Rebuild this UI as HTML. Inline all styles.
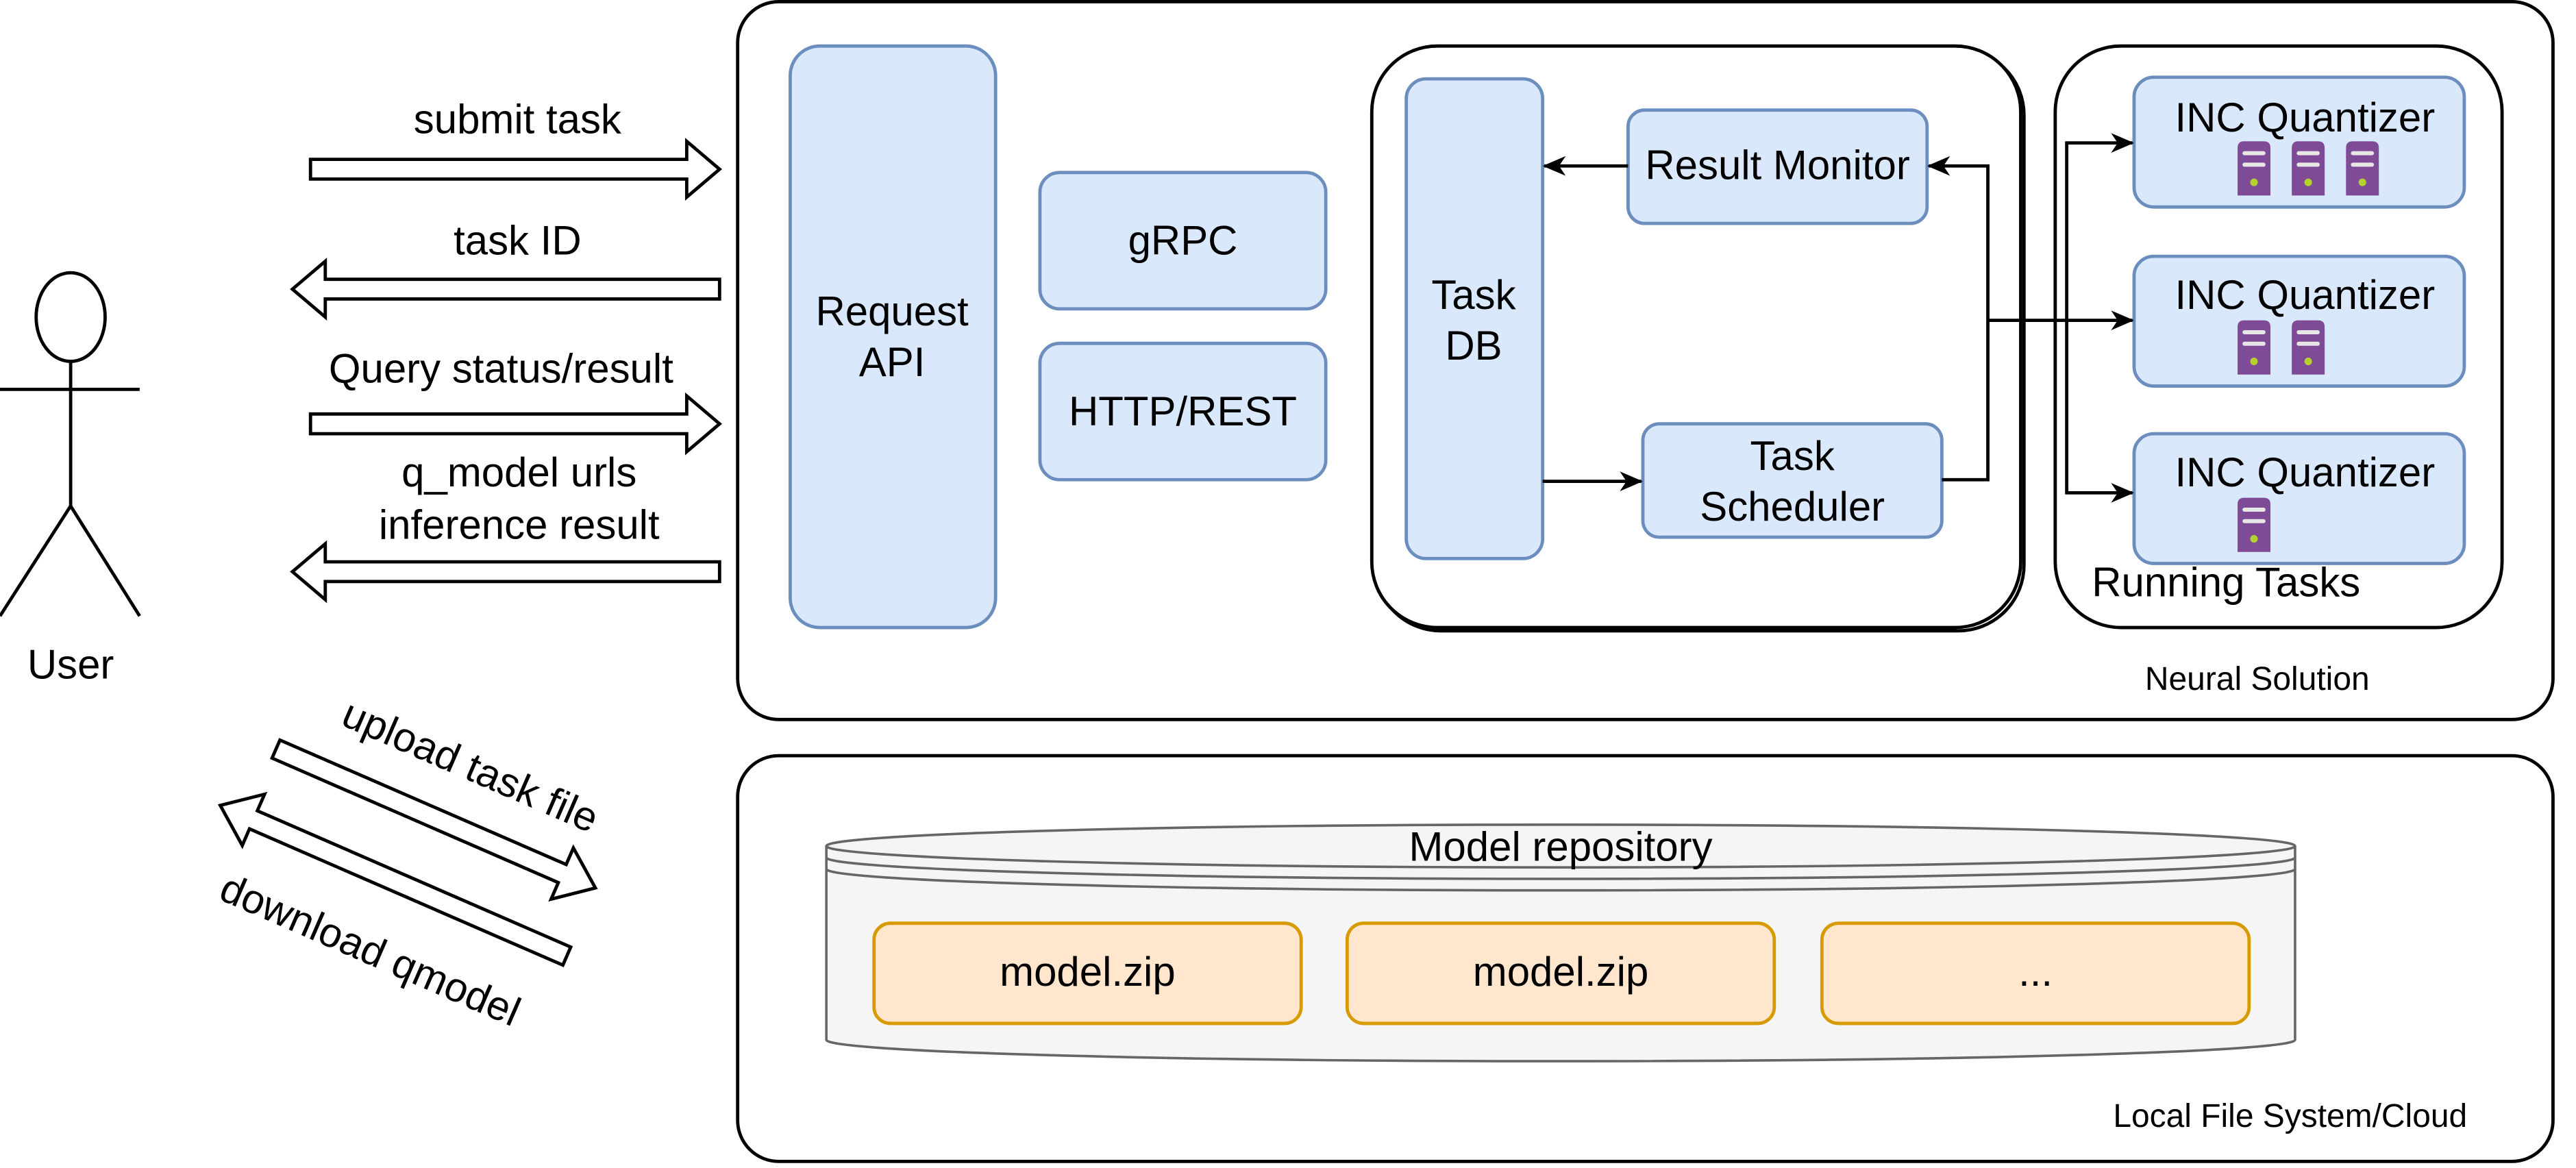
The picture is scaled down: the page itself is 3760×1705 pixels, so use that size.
<!DOCTYPE html>
<html><head><style>html,body{margin:0;padding:0;background:#fff}svg{display:block}text{font-family:"Liberation Sans",Arial,sans-serif;fill:#000}</style></head>
<body>
<svg width="3760" height="1705" viewBox="0 0 1568 711" xmlns="http://www.w3.org/2000/svg">
<defs>
<marker id="ah" markerWidth="14" markerHeight="12" refX="13" refY="6" orient="auto" markerUnits="userSpaceOnUse"><path d="M0,0 L14,6 L0,12 L4,6 Z" fill="#000"/></marker>
<g id="srv"><path d="M0,4 Q0,0 4,0 L16,0 Q20,0 20,4 L20,33 L0,33 Z" fill="#7f4a96"/><rect x="3" y="6" width="14" height="2.5" rx="1.2" fill="#e6e6e6"/><rect x="3" y="13" width="14" height="2.5" rx="1.2" fill="#e6e6e6"/><circle cx="10" cy="25" r="2.3" fill="#b5d12c"/></g>
</defs>
<g font-size="25" text-anchor="middle">
<g stroke="#000" stroke-width="2" fill="none">
<ellipse cx="43" cy="193" rx="21" ry="27" fill="#fff"/>
<line x1="43" y1="220" x2="43" y2="308"/><line x1="0" y1="237" x2="85" y2="237"/>
<line x1="43" y1="308" x2="0" y2="375"/><line x1="43" y1="308" x2="85" y2="375"/>
</g>
<text x="43" y="413">User</text>
<g fill="#fff" stroke="#000" stroke-width="2">
<path d="M189,97 L418,97 L418,86 L438,103 L418,120 L418,109 L189,109 Z"/>
<path d="M438,170 L198,170 L198,159 L178,176 L198,193 L198,182 L438,182 Z"/>
<path d="M189,252 L418,252 L418,241 L438,258 L418,275 L418,264 L189,264 Z"/>
<path d="M438,342 L198,342 L198,331 L178,348 L198,365 L198,354 L438,354 Z"/>
<g transform="translate(168,456) rotate(23.5)"><path d="M0,-6 L190,-6 L190,-17 L212,0 L190,17 L190,6 L0,6 Z"/></g>
<g transform="translate(345,582) rotate(203.5)"><path d="M0,-6 L208,-6 L208,-17 L230,0 L208,17 L208,6 L0,6 Z"/></g>
</g>
<text x="315" y="81">submit task</text>
<text x="315" y="155">task ID</text>
<text x="305" y="233">Query status/result</text>
<text x="316" y="296">q_model urls</text>
<text x="316" y="328">inference result</text>
<text transform="translate(283,474) rotate(23.5)">upload task file</text>
<text transform="translate(222,586) rotate(23.5)">download qmodel</text>
<rect x="449" y="1" width="1105" height="437" rx="25" fill="#fff" stroke="#000" stroke-width="2"/>
<text x="1374" y="420" font-size="20">Neural Solution</text>
<g fill="#dae8fc" stroke="#6c8ebf" stroke-width="2">
<rect x="481" y="28" width="125" height="354" rx="18"/>
<rect x="633" y="105" width="174" height="83" rx="12"/>
<rect x="633" y="209" width="174" height="83" rx="12"/>
</g>
<text x="543" y="198">Request</text><text x="543" y="229">API</text>
<text x="720" y="155">gRPC</text><text x="720" y="259">HTTP/REST</text>
<rect x="837" y="30" width="395" height="354" rx="40" fill="none" stroke="#000" stroke-width="2"/>
<rect x="835" y="28" width="395" height="354" rx="40" fill="#fff" stroke="#000" stroke-width="2"/>
<rect x="1251" y="28" width="272" height="354" rx="40" fill="#fff" stroke="#000" stroke-width="2"/>
<g fill="#dae8fc" stroke="#6c8ebf" stroke-width="2">
<rect x="856" y="48" width="83" height="292" rx="12"/>
<rect x="991" y="67" width="182" height="69" rx="10"/>
<rect x="1000" y="258" width="182" height="69" rx="10"/>
<rect x="1299" y="47" width="201" height="79" rx="12"/>
<rect x="1299" y="156" width="201" height="79" rx="12"/>
<rect x="1299" y="264" width="201" height="79" rx="12"/>
</g>
<text x="897" y="188">Task</text><text x="897" y="219">DB</text>
<text x="1082" y="109">Result Monitor</text>
<text x="1091" y="286">Task</text><text x="1091" y="317">Scheduler</text>
<text x="1403" y="80">INC Quantizer</text>
<text x="1403" y="188">INC Quantizer</text>
<text x="1403" y="296">INC Quantizer</text>
<text x="1355" y="363">Running Tasks</text>
<use href="#srv" x="1362" y="86"/><use href="#srv" x="1395" y="86"/><use href="#srv" x="1428" y="86"/>
<use href="#srv" x="1362" y="195"/><use href="#srv" x="1395" y="195"/>
<use href="#srv" x="1362" y="303"/>
<g stroke="#000" stroke-width="2" fill="none">
<line x1="991" y1="101" x2="940" y2="101" marker-end="url(#ah)"/>
<line x1="939" y1="293" x2="999" y2="293" marker-end="url(#ah)"/>
<polyline points="1182,292 1210,292 1210,101 1174,101" marker-end="url(#ah)"/>
<line x1="1210" y1="195" x2="1298" y2="195" marker-end="url(#ah)"/>
<polyline points="1258,195 1258,87 1298,87" marker-end="url(#ah)"/>
<polyline points="1258,195 1258,300 1298,300" marker-end="url(#ah)"/>
</g>
<rect x="449" y="460" width="1105" height="247" rx="25" fill="#fff" stroke="#000" stroke-width="2"/>
<text x="1394" y="686" font-size="20">Local File System/Cloud</text>
<path d="M503,515 L503,633 A447,13 0 0 0 1397,633 L1397,515" fill="#f5f5f5" stroke="#666" stroke-width="1.5"/>
<ellipse cx="950" cy="515" rx="447" ry="13" fill="#f5f5f5" stroke="#666" stroke-width="1.5"/>
<path d="M503,522 A447,13 0 0 0 1397,522 M503,529 A447,13 0 0 0 1397,529" fill="none" stroke="#666" stroke-width="1.5"/>
<text x="950" y="524">Model repository</text>
<g fill="#ffe6cc" stroke="#d79b00" stroke-width="2">
<rect x="532" y="562" width="260" height="61" rx="10"/>
<rect x="820" y="562" width="260" height="61" rx="10"/>
<rect x="1109" y="562" width="260" height="61" rx="10"/>
</g>
<text x="662" y="600">model.zip</text><text x="950" y="600">model.zip</text><text x="1239" y="600">...</text>
</g>
</svg>
</body></html>
